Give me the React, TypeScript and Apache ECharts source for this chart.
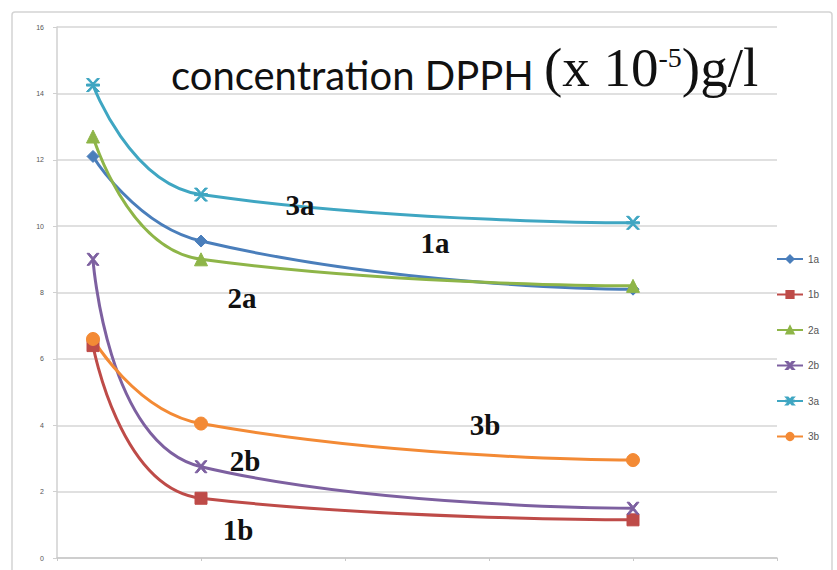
import React, { useEffect, useRef } from "react";
import * as echarts from "echarts";

const xValues = [0.25, 1, 4];
const seriesNames = ["1a", "1b", "2a", "2b", "3a", "3b"];
const s1a = [12.1, 9.55, 8.1];
const s1b = [6.4, 1.8, 1.15];
const s2a = [12.7, 9.0, 8.2];
const s2b = [9.0, 2.75, 1.5];
const s3a = [14.25, 10.95, 10.1];
const s3b = [6.6, 4.05, 2.95];
const yTicks = [0, 2, 4, 6, 8, 10, 12, 14, 16];

const colors = ["#4A7EBB", "#BE4B48", "#8EB548", "#7D60A0", "#3FA6C2", "#F38A35"];
const X_PATH = "path://M0,0 L2,0 L5,3.5 L8,0 L10,0 L6,5 L10,10 L8,10 L5,6.5 L2,10 L0,10 L4,5 Z";
const STAR_PATH = "path://M0,0 L2,0 L5,3.5 L8,0 L10,0 L6,4.2 L10,4.2 L10,5.8 L6,5.8 L10,10 L8,10 L5,6.5 L2,10 L0,10 L4,5.8 L0,5.8 L0,4.2 L4,4.2 Z";
const symbols = ["diamond", "rect", "triangle", X_PATH, STAR_PATH, "circle"];
const symbolSizes = [12, 12, 13, 12, 13, 13];

export default function App() {
  const ref = useRef<HTMLDivElement>(null);
  useEffect(() => {
    if (!ref.current) return;
    const chart = echarts.init(ref.current, undefined, { renderer: "svg" });
    const all = [s1a, s1b, s2a, s2b, s3a, s3b];
    const series = all.map((vals, i) => ({
      name: seriesNames[i],
      type: "line",
      smooth: 0.5,
      data: vals.map((v, j) => [xValues[j], v]),
      symbol: symbols[i],
      symbolSize: symbolSizes[i],
      lineStyle: { color: colors[i], width: 3 },
      itemStyle: { color: colors[i], borderColor: colors[i], borderWidth: 1 },
      z: 3,
    }));
    const ann = (text: string, x: number, y: number) => ({
      type: "text",
      x,
      y,
      style: {
        text,
        font: "bold 29px 'Liberation Serif', 'Times New Roman', serif",
        fill: "#111",
        align: "center",
        verticalAlign: "middle",
      },
      z: 10,
    });
    chart.setOption({
      animation: false,
      backgroundColor: "#fff",
      grid: { left: 57, top: 27, right: 60, bottom: 12, containLabel: false },
      xAxis: {
        type: "value",
        min: 0,
        max: 5,
        interval: 1,
        axisLine: { show: true, lineStyle: { color: "#c8c8c8", width: 1.5 } },
        axisTick: { show: true, length: 3, lineStyle: { color: "#c8c8c8" } },
        axisLabel: { show: false },
        splitLine: { show: false },
      },
      yAxis: {
        type: "value",
        min: 0,
        max: 16,
        interval: 2,
        axisLine: { show: true, lineStyle: { color: "#d0d0d0", width: 1.5 } },
        axisTick: { show: true, length: 4, lineStyle: { color: "#d0d0d0" } },
        axisLabel: {
          color: "#555",
          fontSize: 7,
          margin: 13,
          formatter: (v: number) => (yTicks.includes(v) ? String(v) : ""),
        },
        splitLine: { show: true, lineStyle: { color: "#d6d6d6", width: 1.5 } },
      },
      legend: {
        orient: "vertical",
        left: 771,
        top: 249,
        itemWidth: 26,
        itemHeight: 9,
        itemGap: 25.5,
        textStyle: { color: "#555", fontSize: 10, fontFamily: "Liberation Sans" },
        data: seriesNames,
      },
      graphic: [
        {
          type: "rect",
          shape: { x: 12, y: 12, width: 820, height: 600, r: 3 },
          style: { fill: "none", stroke: "#d4d4d4", lineWidth: 1.5 },
          z: 0,
          silent: true,
        },
        {
          type: "text",
          x: 171,
          y: 66,
          style: {
            text: "{a|concentration DPPH }{b|(x 10}{c|-5}{b|)g/l}",
            verticalAlign: "middle",
            rich: {
              a: { font: "40px Lato, 'Open Sans', sans-serif", fill: "#111", lineHeight: 58, verticalAlign: "bottom" },
              b: { font: "55px 'Liberation Serif', 'Times New Roman', serif", fill: "#111", lineHeight: 58, verticalAlign: "bottom" },
              c: { font: "28px 'Liberation Serif', 'Times New Roman', serif", fill: "#111", lineHeight: 58, verticalAlign: "top", padding: [6, 0, 0, 0] },
            },
          },
          z: 10,
        },
        ann("3a", 300, 205),
        ann("1a", 435, 243),
        ann("2a", 242, 298),
        ann("3b", 485, 425),
        ann("2b", 245, 461),
        ann("1b", 238, 530),
      ],
      series,
    });
    return () => chart.dispose();
  }, []);
  return (
    <div
      ref={ref}
      style={{ position: "fixed", left: 0, top: 0, width: 837, height: 570 }}
    />
  );
}
